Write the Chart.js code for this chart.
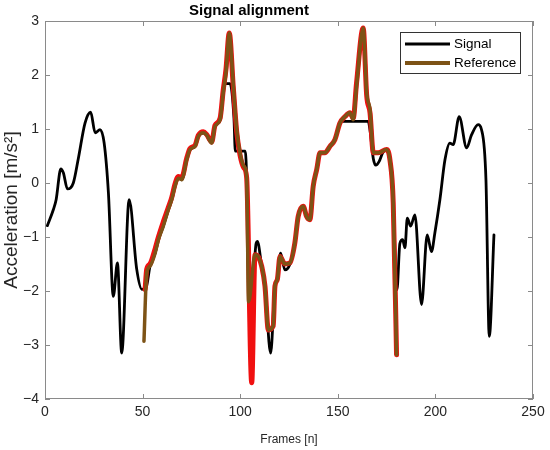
<!DOCTYPE html>
<html>
<head>
<meta charset="utf-8">
<title>Signal alignment</title>
<script src="https://cdn.jsdelivr.net/npm/chart.js@4.4.1/dist/chart.umd.min.js"></script>
<style>
  html, body { margin: 0; padding: 0; background: #fff; }
  #wrap { width: 550px; height: 450px; }
</style>
</head>
<body>
<div id="wrap"><canvas id="chart" width="550" height="450"></canvas></div>
<script>
// Valeurs
var chartTitle = "Signal alignment";
var xAxisLabel = "Frames [n]";
var yAxisLabel = "Acceleration [m/s²]";
var seriesNames = ["Signal", "Reference"];

var xTicks = [0, 50, 100, 150, 200, 250];
var yTicks = [-4, -3, -2, -1, 0, 1, 2, 3];

// Signal (noir)
var signalFrames = [
  1.2, 4.3, 5.7, 8.1, 9.4, 11.5, 14.5, 17.1, 20.5, 23.4, 25.7, 28.2, 30.3, 32.5,
  35, 37.1, 39.3, 43.1, 47, 49.6, 51.8, 53.8, 56.4, 58.1, 60.6, 63.2, 64.9, 66.6,
  68.3, 70, 72.6, 74.3, 76.9, 78.5, 81.1, 82.8, 85.4, 87.1, 89.7, 91.3, 92.2, 94.8,
  96.8, 97.5, 102.6, 105.9, 107.6, 108.8, 111, 112.7, 115.6, 117.8, 119, 120.7,
  122.9, 125.5, 128, 129.7, 132.3, 134, 135.7, 137.4, 139.2, 140.9, 143.4, 146,
  148.5, 151.1, 152.8, 165.6, 166.6, 168.2, 169.5, 171.2, 173, 175, 176.7, 178.4,
  180.3, 181.8, 183.2, 184.4, 185.6, 187.3, 189.5, 192.9, 195.8, 198, 199.7, 202.3,
  204.9, 207.4, 209.1, 212.2, 216, 218.5, 221.9, 223.6, 225.9, 227.6, 230
];
var signalValues = [
  -0.79, -0.49, -0.31, 0.26, 0.19, -0.11, 0.0, 0.46, 1.11, 1.31, 0.93, 0.99, 0.74, -0.19,
  -2.1, -1.48, -3.15, -0.31, -1.6, -1.97, -1.94, -1.54, -1.3, -1.05, -0.8, -0.49, -0.31, -0.06,
  0.09, 0.06, 0.43, 0.62, 0.68, 0.86, 0.93, 0.89, 0.74, 1.05, 1.17, 1.67, 1.84, 1.84,
  1.2, 0.59, 0.59, -3.7, -1.33, -1.08, -1.54, -1.91, -3.15, -1.91, -1.79, -1.3,
  -1.61, -1.5, -1.11, -0.62, -0.43, -0.62, -0.68, -0.06, 0.25, 0.56, 0.56, 0.68,
  0.8, 1.11, 1.14, 1.14, 0.95, 0.45, 0.33, 0.4, 0.56, 0.62, 0.43, -0.37,
  -1.98, -1.12, -1.05, -1.2, -0.65, -0.8, -0.59, -2.25, -0.96, -1.27, -0.93, -0.31,
  0.43, 0.74, 0.71, 1.23, 0.65, 0.89, 1.08, 0.99, 0.06, -2.84, -0.96
];

// Reference (marron)
var referenceFrames = [
  50.7, 52.1, 53.8, 56.4, 58.1, 60.6, 63.2, 64.9, 66.6, 68.3, 70, 72.6, 74.3, 76.9,
  78.5, 81.1, 82.8, 85.4, 87.1, 89.7, 91.3, 92.7, 94.4, 96.5, 98.2, 99.9, 101.9, 103.3,
  104.3, 107.6, 109.5, 111, 112.7, 114.4, 116.9, 117.8, 119, 120.4, 122.9, 125.5, 128,
  129.7, 132.3, 134, 135.7, 137.4, 139.2, 140.9, 143.4, 146, 148.5, 151.1, 153.7, 156.2,
  157.9, 159.6, 163, 164.8, 166.5, 168.2, 170.7, 175, 176.7, 178.4, 180.1
];
var referenceValues = [
  -2.93, -1.67, -1.54, -1.3, -1.05, -0.8, -0.49, -0.31, -0.06, 0.09, 0.06, 0.43, 0.62, 0.68,
  0.86, 0.93, 0.89, 0.74, 1.05, 1.17, 1.67, 2.04, 2.78, 1.79, 0.99, 0.56, 0.31, 0.12,
  -2.2, -1.33, -1.38, -1.54, -1.91, -2.72, -2.65, -1.91, -1.79, -1.36, -1.5, -1.48, -1.11,
  -0.62, -0.43, -0.62, -0.68, -0.06, 0.25, 0.56, 0.56, 0.68, 0.8, 1.11, 1.23, 1.3,
  1.17, 1.79, 2.87, 1.67, 1.36, 0.56, 0.56, 0.62, 0.43, -0.37, -3.18
];

// Signal aligné (rouge, sous la référence)
var alignedFrames = [
  51.3, 52.1, 53.8, 56.4, 58.1, 60.6, 63.2, 64.9, 66.6, 68.3, 70, 72.6, 74.3, 76.9,
  78.5, 81.1, 82.8, 85.4, 87.1, 89.7, 91.3, 92.7, 94.4, 96.5, 98.2, 99.9, 101.9, 103.3,
  105.9, 107.6, 109.5, 111, 112.7, 114.4, 116.9, 117.8, 119, 120.4, 122.9, 125.5, 128,
  129.7, 132.3, 134, 135.7, 137.4, 139.2, 140.9, 143.4, 146, 148.5, 151.1, 153.7, 156.2,
  157.9, 159.6, 163, 164.8, 166.5, 168.2, 170.7, 175, 176.7, 178.4, 180.1
];
var alignedValues = [
  -1.97, -1.6, -1.5, -1.22, -1.0, -0.72, -0.45, -0.27, -0.02, 0.12, 0.1, 0.46, 0.64, 0.7,
  0.88, 0.95, 0.9, 0.76, 1.07, 1.2, 1.72, 2.1, 2.78, 1.75, 0.95, 0.52, 0.28, 0.1,
  -3.7, -1.33, -1.38, -1.54, -1.91, -2.72, -2.65, -1.91, -1.79, -1.36, -1.5, -1.48, -1.11,
  -0.62, -0.43, -0.62, -0.68, -0.06, 0.25, 0.56, 0.56, 0.68, 0.8, 1.11, 1.23, 1.3,
  1.2, 1.85, 2.87, 1.62, 1.3, 0.56, 0.56, 0.62, 0.43, -0.37, -3.18
];

var FONT = "'Liberation Sans', Arial, Helvetica, sans-serif";
var AXIS_COLOR = "#8a8a8a";
var TEXT_COLOR = "#262626";
var SIGNAL_COLOR = "#000000";
var REFERENCE_COLOR = "#7d5316";
var ALIGNED_COLOR = "#f01010";

var toPoints = function (frames, values) {
  return frames.map(function (f, i) {
    return { x: f, y: values[i] };
  });
};

// Cadre, graduations internes, titres et légende façon MATLAB
var matlabFrame = {
  id: "matlabFrame",
  afterDraw: function (chart) {
    var ctx = chart.ctx;
    var area = chart.chartArea;
    var xs = chart.scales.x;
    var ys = chart.scales.y;
    var tick = 5;

    ctx.save();
    ctx.strokeStyle = AXIS_COLOR;
    ctx.lineWidth = 1;
    ctx.strokeRect(area.left + 0.5, area.top + 0.5, area.right - area.left - 1, area.bottom - area.top - 1);

    ctx.beginPath();
    xTicks.forEach(function (v) {
      var px = Math.round(xs.getPixelForValue(v)) + 0.5;
      ctx.moveTo(px, area.bottom);
      ctx.lineTo(px, area.bottom - tick);
      ctx.moveTo(px, area.top);
      ctx.lineTo(px, area.top + tick);
    });
    yTicks.forEach(function (v) {
      var py = Math.round(ys.getPixelForValue(v)) + 0.5;
      ctx.moveTo(area.left, py);
      ctx.lineTo(area.left + tick, py);
      ctx.moveTo(area.right, py);
      ctx.lineTo(area.right - tick, py);
    });
    ctx.stroke();

    // Titre
    ctx.fillStyle = "#000";
    ctx.font = "bold 15px " + FONT;
    ctx.textAlign = "center";
    ctx.textBaseline = "middle";
    ctx.fillText(chartTitle, 249, 11);

    // Titre axe x
    ctx.fillStyle = TEXT_COLOR;
    ctx.font = "12px " + FONT;
    ctx.fillText(xAxisLabel, 289, 440);

    // Titre axe y
    ctx.save();
    ctx.translate(12, 210);
    ctx.rotate(-Math.PI / 2);
    ctx.font = "19px " + FONT;
    ctx.fillText(yAxisLabel, 0, 0);
    ctx.restore();

    // Légende
    var bx = 400.5, by = 32.5, bw = 120, bh = 41;
    ctx.fillStyle = "#fff";
    ctx.fillRect(bx, by, bw, bh);
    ctx.strokeStyle = "#333";
    ctx.lineWidth = 1;
    ctx.strokeRect(bx, by, bw, bh);

    var rows = [
      { label: seriesNames[0], color: SIGNAL_COLOR, width: 3, y: 44 },
      { label: seriesNames[1], color: REFERENCE_COLOR, width: 4, y: 63 }
    ];
    rows.forEach(function (r) {
      ctx.beginPath();
      ctx.strokeStyle = r.color;
      ctx.lineWidth = r.width;
      ctx.moveTo(405, r.y);
      ctx.lineTo(450, r.y);
      ctx.stroke();
      ctx.fillStyle = "#000";
      ctx.font = "13.5px " + FONT;
      ctx.textAlign = "left";
      ctx.textBaseline = "middle";
      ctx.fillText(r.label, 454, r.y + 0.5);
    });
    ctx.restore();
  }
};

var chart = new Chart(document.getElementById("chart"), {
  type: "line",
  data: {
    datasets: [
      {
        label: seriesNames[1],
        data: toPoints(referenceFrames, referenceValues),
        borderColor: REFERENCE_COLOR,
        borderWidth: 3.5,
        order: 0
      },
      {
        label: "Aligned",
        data: toPoints(alignedFrames, alignedValues),
        borderColor: ALIGNED_COLOR,
        borderWidth: 5,
        order: 1
      },
      {
        label: seriesNames[0],
        data: toPoints(signalFrames, signalValues),
        borderColor: SIGNAL_COLOR,
        borderWidth: 2.8,
        order: 2
      }
    ]
  },
  options: {
    responsive: false,
    animation: false,
    devicePixelRatio: 1,
    layout: { padding: { left: 0, right: 17, top: 21, bottom: 0 } },
    elements: {
      point: { radius: 0 },
      line: {
        cubicInterpolationMode: "monotone",
        borderJoinStyle: "round",
        borderCapStyle: "round",
        fill: false
      }
    },
    plugins: {
      legend: { display: false },
      title: { display: false },
      tooltip: { enabled: false }
    },
    scales: {
      x: {
        type: "linear",
        min: 0,
        max: 250,
        afterFit: function (scale) { scale.height = 51; },
        afterBuildTicks: function (scale) {
          scale.ticks = xTicks.map(function (v) { return { value: v }; });
        },
        ticks: { font: { size: 14, family: FONT }, color: TEXT_COLOR, padding: 5, maxRotation: 0 },
        grid: { display: false, drawTicks: false },
        border: { display: false }
      },
      y: {
        type: "linear",
        min: -4,
        max: 3,
        afterFit: function (scale) { scale.width = 45; },
        afterBuildTicks: function (scale) {
          scale.ticks = yTicks.map(function (v) { return { value: v }; });
        },
        ticks: {
          font: { size: 14, family: FONT },
          color: TEXT_COLOR,
          padding: 6,
          callback: function (v) { return v < 0 ? "\u2212" + Math.abs(v) : String(v); }
        },
        grid: { display: false, drawTicks: false },
        border: { display: false }
      }
    }
  },
  plugins: [matlabFrame]
});
</script>
</body>
</html>
